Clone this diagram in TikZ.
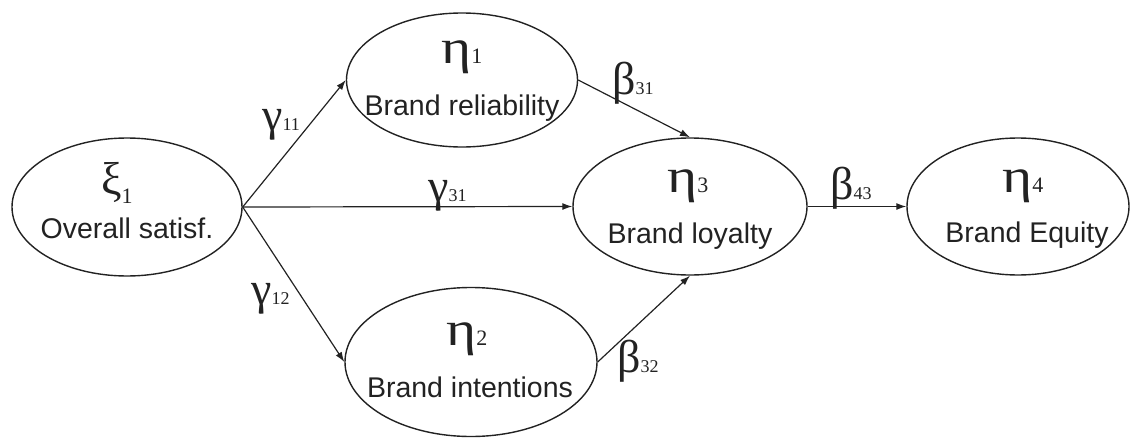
\documentclass[tikz,border=0pt]{standalone}
\usepackage{graphicx}
\usepackage{fontspec}
\setmainfont{Liberation Sans}
\newfontfamily\grk{Liberation Serif}
\usetikzlibrary{shapes.geometric,arrows.meta}
\definecolor{ink}{HTML}{222222}
\tikzset{
  latent/.style={draw=ink, line width=1.4pt, ellipse, inner sep=0pt},
  lbl/.style={anchor=base, inner sep=0pt, text=ink, font=\fontsize{28.5}{30}\selectfont},
  gsym/.style={anchor=base west, inner sep=0pt, text=ink},
  path/.style={draw=ink, line width=1.2pt, -{Latex[length=10pt,width=7pt]}}
}
\newcommand{\gl}[2]{{\grk\fontsize{46}{46}\selectfont #1}{\grk\fontsize{22}{22}\selectfont #2}}
\newcommand{\ga}[2]{{\grk\fontsize{46}{46}\selectfont #1}{\grk\fontsize{18}{18}\selectfont #2}}
\newcommand{\etaw}{\scalebox{1.25}[1.05]{η}}
\begin{document}
\begin{tikzpicture}[x=1pt,y=-1pt]
\useasboundingbox (0,0) rectangle (1130,439);
% latent variables
\node[latent, minimum width=230pt, minimum height=138pt] (xi) at (127,207) {};
\node[latent, minimum width=231pt, minimum height=134pt] (e1) at (462,80) {};
\node[latent, minimum width=234pt, minimum height=137pt] (e3) at (690,206.5) {};
\node[latent, minimum width=222pt, minimum height=137pt] (e4) at (1018,206.5) {};
\node[latent, minimum width=252pt, minimum height=149pt] (e2) at (471,362) {};
% symbols and names
\node[gsym] (xis) at (101,194) {\gl{ξ}{\raisebox{-9pt}{1}}};
\node[lbl] (xin) at (127,238) {Overall satisf.};
\node[gsym] (e1s) at (441,63) {\gl{\etaw}{1}};
\node[lbl] (e1n) at (462,115) {Brand reliability};
\node[gsym] (e3s) at (667,192) {\gl{\etaw}{3}};
\node[lbl] (e3n) at (690,243) {Brand loyalty};
\node[gsym] (e4s) at (1002,192) {\gl{\etaw}{4}};
\node[lbl] (e4n) at (1027,242) {Brand Equity};
\node[gsym] (e2s) at (446,345) {\gl{\etaw}{2}};
\node[lbl] (e2n) at (470,397) {Brand intentions};
% paths
\draw[path] (xi.east) -- (e1.west);
\draw[path] (xi.east) -- (e3.west);
\draw[path] (xi.east) -- (e2.west);
\draw[path] (e1.east) -- (e3.north);
\draw[path] (e2.east) -- (e3.south);
\draw[path] (e3.east) -- (e4.west);
% path labels
\node[gsym] (g11) at (262,130) {\ga{γ}{11}};
\node[gsym] (g31) at (428,201) {\ga{γ}{31}};
\node[gsym] (g12) at (251,304) {\ga{γ}{12}};
\node[gsym] (b31) at (612,94) {\ga{β}{31}};
\node[gsym] (b43) at (830,199) {\ga{β}{43}};
\node[gsym] (b32) at (617,372) {\ga{β}{32}};
\end{tikzpicture}
\end{document}
